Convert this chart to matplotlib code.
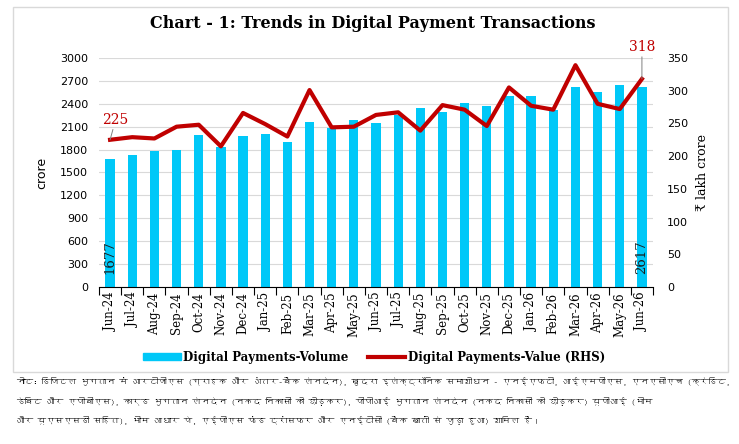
import matplotlib
matplotlib.use("Agg")
import matplotlib.pyplot as plt
from matplotlib import font_manager
from matplotlib.ft2font import FT2Font
from matplotlib.patches import Rectangle
from matplotlib.lines import Line2D
import numpy as np

months = ["Jun-24", "Jul-24", "Aug-24", "Sep-24", "Oct-24", "Nov-24", "Dec-24",
          "Jan-25", "Feb-25", "Mar-25", "Apr-25", "May-25", "Jun-25", "Jul-25",
          "Aug-25", "Sep-25", "Oct-25", "Nov-25", "Dec-25", "Jan-26", "Feb-26",
          "Mar-26", "Apr-26", "May-26", "Jun-26"]
volume = [1677, 1735, 1787, 1790, 1988, 1831, 1975, 2006, 1905, 2163, 2089, 2185,
          2146, 2255, 2343, 2291, 2409, 2374, 2501, 2505, 2321, 2619, 2558, 2650, 2617]
value = [225, 229, 227, 245, 248, 215, 266, 249, 230, 301, 244, 245,
         263, 267, 239, 278, 271, 246, 305, 277, 271, 339, 280, 272, 318]

note = ("नोट: डिजिटल भुगतान में आरटीजीएस (ग्राहक और अंतर-बैंक लेनदेन), खुदरा इलेक्ट्रॉनिक समाशोधन - एनईएफटी, आईएमपीएस, एनएसीएच (क्रेडिट,\n"
        "डेबिट और एपीबीएस), कार्ड भुगतान लेनदेन (नकद निकासी को छोड़कर), पीपीआई भुगतान लेनदेन (नकद निकासी को छोड़कर) यूपीआई (भीम\n"
        "और यूएसएसडी सहित), भीम आधार पे, एईपीएस फंड ट्रांसफर और एनईटीसी (बैंक खातों से जुड़ा हुआ) शामिल हैं।")

# look for any installed font that has Devanagari glyphs
hindi_font = None
for f in font_manager.fontManager.ttflist:
    try:
        if 0x0921 in FT2Font(f.fname).get_charmap():
            hindi_font = f.name
            break
    except Exception:
        pass
note_family = [hindi_font, "DejaVu Sans"] if hindi_font else ["DejaVu Sans"]

blue = "#00C8F8"
red = "#C00000"
serif = "DejaVu Serif"

fig = plt.figure(figsize=(7.39, 4.44), dpi=100)
fig.patches.append(Rectangle((13/739, 1 - 372/444), 715/739, 365/444, transform=fig.transFigure,
                             fill=False, edgecolor="#d9d9d9", linewidth=1))

ax = fig.add_axes([99/739, 1 - 287/444, 554/739, 229/444])
x = np.arange(len(months))
ax.bar(x, volume, width=0.42, color=blue, zorder=2)
ax.set_ylim(0, 3000)
ax.set_yticks(np.arange(0, 3001, 300))
ax.set_xlim(-0.5, len(months) - 0.5)
ax.grid(axis="y", color="#d9d9d9", linewidth=0.8, zorder=0)
ax.set_axisbelow(True)
for s in ["top", "left", "right"]:
    ax.spines[s].set_visible(False)
ax.spines["bottom"].set_color("black")
ax.tick_params(axis="y", length=0, labelsize=8, pad=8)
ax.set_xticks(np.arange(-0.5, len(months), 1))
ax.set_xticklabels([])
ax.tick_params(axis="x", which="major", length=6, direction="out")
ax.set_xticks(x, minor=True)
ax.set_xticklabels(months, minor=True, rotation=90, fontsize=8.5, family=serif)
ax.tick_params(axis="x", which="minor", length=0, pad=4)
ax.set_ylabel("crore", fontsize=9, labelpad=8)

ax2 = ax.twinx()
ax2.plot(x, value, color=red, linewidth=3, zorder=3)
ax2.set_ylim(0, 350)
ax2.set_yticks(np.arange(0, 351, 50))
for s in ["top", "left", "right", "bottom"]:
    ax2.spines[s].set_visible(False)
ax2.tick_params(axis="y", length=0, labelsize=8, pad=10)
ax2.set_ylabel("₹ lakh crore", fontsize=9, labelpad=6, family=serif)

# data labels
ax.text(x[0], 170, str(volume[0]), rotation=90, ha="center", va="bottom",
        fontsize=9.5, family=serif, color="#1a1a1a", zorder=4)
ax.text(x[-1], 170, str(volume[-1]), rotation=90, ha="center", va="bottom",
        fontsize=9.5, family=serif, color="#1a1a1a", zorder=4)
ax2.annotate(str(value[0]), xy=(x[0], value[0]), xytext=(x[0] + 0.25, value[0] + 20),
             ha="center", va="bottom", color=red, fontsize=10, family=serif,
             arrowprops=dict(arrowstyle="-", color="gray", linewidth=0.7, shrinkA=0, shrinkB=0))
ax2.annotate(str(value[-1]), xy=(x[-1], value[-1]), xytext=(x[-1], value[-1] + 38),
             ha="center", va="bottom", color=red, fontsize=10, family=serif,
             arrowprops=dict(arrowstyle="-", color="gray", linewidth=0.7, shrinkA=0, shrinkB=0))

fig.text(373/739, 1 - 24/444, "Chart - 1: Trends in Digital Payment Transactions",
         ha="center", va="center", fontsize=11.5, fontweight="bold", family=serif)

handles = [Rectangle((0, 0), 1, 1, color=blue),
           Line2D([], [], color=red, linewidth=3)]
fig.legend(handles, ["Digital Payments-Volume", "Digital Payments-Value (RHS)"],
           loc="center", bbox_to_anchor=(374/739, 1 - 357/444), ncol=2, frameon=False,
           prop=dict(family=serif, weight="bold", size=8.5), handlelength=3.2,
           handleheight=0.6, columnspacing=1.6, handletextpad=0.2)

# note: shrink the font until the widest line fits inside the figure
note_txt = fig.text(16/739, 1 - 377/444, note, ha="left", va="top", fontsize=7.4,
                    style="italic", family=note_family, linespacing=1.95)
renderer = fig.canvas.get_renderer()
w = note_txt.get_window_extent(renderer).width
if w > 712:
    fs = 7.4 * 712 / w
    note_txt.set_fontsize(fs)
    note_txt.set_linespacing(14.4 / fs)

fig.savefig("out.png", dpi=100)
